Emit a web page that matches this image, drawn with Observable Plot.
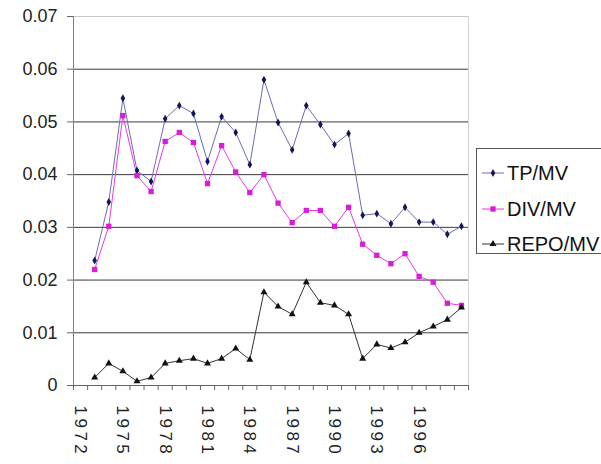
<!DOCTYPE html>
<html>
<head>
<meta charset="utf-8">
<script src="https://cdn.jsdelivr.net/npm/d3@7"></script>
<script src="https://cdn.jsdelivr.net/npm/@observablehq/plot@0.6"></script>
<style>
  html, body { margin: 0; padding: 0; background: #fff; overflow: hidden; }
  #wrap { position: relative; width: 601px; height: 464px; font-family: "Liberation Sans", Arial, sans-serif; }
  #legend { position: absolute; left: 476px; top: 148px; width: 150px; height: 106px; border: 1px solid #555; background: #fff; box-sizing: border-box; }
  .item { position: absolute; left: 4px; height: 24px; display: flex; align-items: center; font-size: 20px; color: #111; white-space: nowrap; }
  .item svg { margin-right: 2px; }
</style>
</head>
<body>
<div id="wrap"></div>
<script>
const years = [1973,1974,1975,1976,1977,1978,1979,1980,1981,1982,1983,1984,1985,1986,1987,1988,1989,1990,1991,1992,1993,1994,1995,1996,1997,1998,1999];
const tpMV   = [0.0237,0.0348,0.0545,0.0408,0.0387,0.0506,0.0531,0.0516,0.0425,0.0510,0.0480,0.0419,0.0580,0.0499,0.0447,0.0531,0.0495,0.0457,0.0478,0.0323,0.0326,0.0307,0.0338,0.0310,0.0310,0.0287,0.0302];
const divMV  = [0.0220,0.0302,0.0512,0.0398,0.0368,0.0463,0.0480,0.0461,0.0383,0.0455,0.0405,0.0366,0.0400,0.0346,0.0309,0.0332,0.0332,0.0302,0.0338,0.0268,0.0247,0.0231,0.0250,0.0207,0.0196,0.0156,0.0152];
const repoMV = [0.0015,0.0042,0.0027,0.0008,0.0015,0.0042,0.0047,0.0051,0.0042,0.0051,0.0070,0.0049,0.0177,0.0150,0.0135,0.0196,0.0157,0.0152,0.0135,0.0051,0.0078,0.0071,0.0082,0.0100,0.0112,0.0125,0.0148];
const seriesNames = ["TP/MV", "DIV/MV", "REPO/MV"];
const xTickLabels = [1972,1975,1978,1981,1984,1987,1990,1993,1996];
const yTicks = [0,0.01,0.02,0.03,0.04,0.05,0.06,0.07];
const categoryYears = [1972,1973,1974,1975,1976,1977,1978,1979,1980,1981,1982,1983,1984,1985,1986,1987,1988,1989,1990,1991,1992,1993,1994,1995,1996,1997,1998,1999];

const rows = (vals) => years.map((year, i) => ({year, value: vals[i]}));
const tpRows = rows(tpMV), divRows = rows(divMV), repoRows = rows(repoMV);
const boundaries = categoryYears.map(y => y - 0.5).concat([categoryYears[categoryYears.length - 1] + 0.5]);
const xDomain = [boundaries[0], boundaries[boundaries.length - 1]];

const style = {
  tp:   {line: "#6c6cb8", mark: "#14145a", symbol: "diamond", r: 2.4},
  div:  {line: "#e838e8", mark: "#d81cd8", symbol: "square", r: 3},
  repo: {line: "#333333", mark: "#111111", symbol: "triangle", r: 2.6}
};

const chart = Plot.plot({
  width: 601,
  height: 464,
  marginLeft: 73,
  marginRight: 133,
  marginTop: 16,
  marginBottom: 79,
  style: {fontFamily: '"Liberation Sans", Arial, sans-serif', background: "#fff", color: "#222"},
  x: {domain: xDomain, type: "linear"},
  y: {domain: [0, 0.07]},
  marks: [
    Plot.gridY(yTicks.slice(1, -1), {stroke: "#3a3a3a", strokeOpacity: 1, strokeWidth: 1}),
    Plot.ruleY([0.07], {stroke: "#c8c8c8"}),
    Plot.ruleX([xDomain[1]], {stroke: "#d4d4d4"}),
    Plot.ruleX([xDomain[0]], {stroke: "#808080"}),
    Plot.ruleY([0], {stroke: "#666"}),
    Plot.axisY({ticks: yTicks, tickFormat: d => d === 0 ? "0" : d.toFixed(2), tickSize: 6, tickPadding: 10, fontSize: 18, label: null, stroke: "#666"}),
    Plot.axisX({ticks: boundaries, tickFormat: () => "", tickSize: 5, label: null, stroke: "#666"}),
    Plot.axisX({ticks: xTickLabels, tickFormat: d => String(d), tickSize: 0, tickPadding: 20, tickRotate: 90, fontSize: 17, label: null}),
    Plot.line(tpRows, {x: "year", y: "value", stroke: style.tp.line, strokeWidth: 1}),
    Plot.line(divRows, {x: "year", y: "value", stroke: style.div.line, strokeWidth: 1}),
    Plot.line(repoRows, {x: "year", y: "value", stroke: style.repo.line, strokeWidth: 1}),
    Plot.dot(tpRows, {x: "year", y: "value", symbol: style.tp.symbol, r: style.tp.r, fill: style.tp.mark}),
    Plot.dot(divRows, {x: "year", y: "value", symbol: style.div.symbol, r: style.div.r, fill: style.div.mark}),
    Plot.dot(repoRows, {x: "year", y: "value", symbol: style.repo.symbol, r: style.repo.r, fill: style.repo.mark})
  ]
});
chart.querySelectorAll('g[aria-label="x-axis tick label"] text').forEach(t => t.style.letterSpacing = "3.5px");

const wrap = document.getElementById("wrap");
wrap.appendChild(chart);

const legend = document.createElement("div");
legend.id = "legend";
const keys = ["tp", "div", "repo"];
const tops = [12, 48, 83];
keys.forEach((k, i) => {
  const item = document.createElement("div");
  item.className = "item";
  item.style.top = tops[i] + "px";
  const s = d3.create("svg").attr("width", 24).attr("height", 24);
  s.append("line").attr("x1", 1).attr("x2", 23).attr("y1", 12).attr("y2", 12).attr("stroke", style[k].line).attr("stroke-width", 1);
  const sym = {diamond: d3.symbolDiamond, square: d3.symbolSquare, triangle: d3.symbolTriangle}[style[k].symbol];
  s.append("path").attr("d", d3.symbol(sym, Math.PI * style[k].r * style[k].r)()).attr("transform", "translate(12,12)").attr("fill", style[k].mark);
  item.appendChild(s.node());
  const label = document.createElement("span");
  label.textContent = seriesNames[i];
  item.appendChild(label);
  legend.appendChild(item);
});
wrap.appendChild(legend);
</script>
</body>
</html>
